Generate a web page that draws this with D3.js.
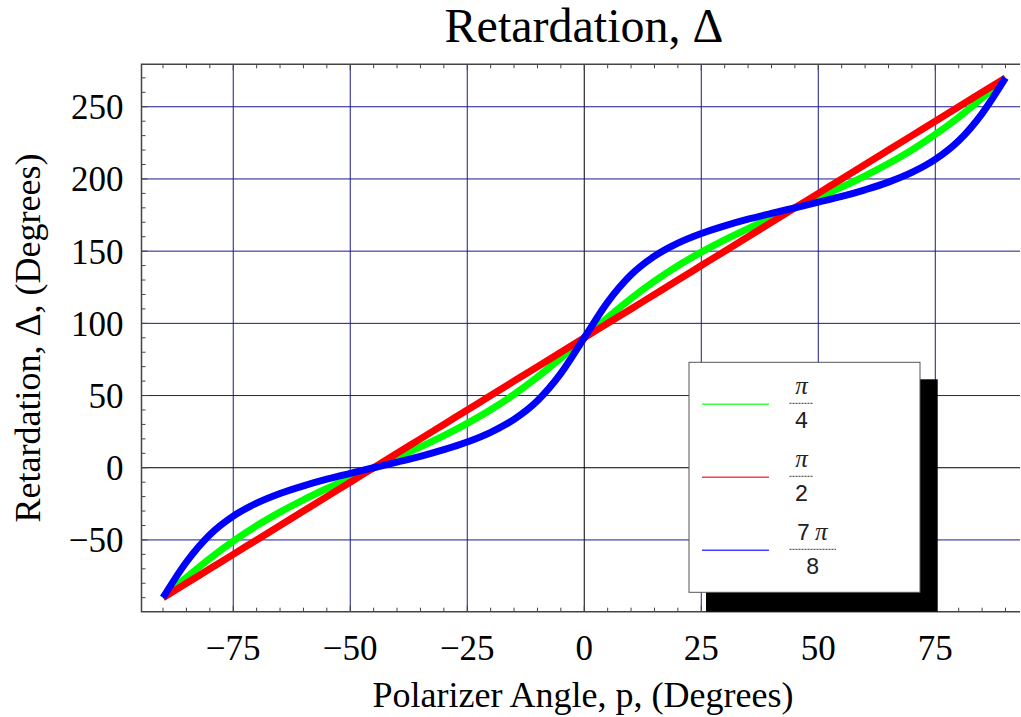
<!DOCTYPE html>
<html>
<head>
<meta charset="utf-8">
<script src="https://cdn.jsdelivr.net/npm/d3@7"></script>
<style>
  html, body { margin: 0; padding: 0; background: #fff; }
  svg { display: block; }
</style>
</head>
<body>
<svg id="chart" width="1021" height="717"></svg>
<script>
// ---- data ----
const angles = [-90,-85,-80,-75,-70,-65,-60,-55,-50,-45,-40,-35,-30,-25,-20,-15,-10,-5,0,
                5,10,15,20,25,30,35,40,45,50,55,60,65,70,75,80,85,90];
const greenPi4 = [-90,-76.0,-62.8,-50.8,-40.1,-30.7,-22.2,-14.4,-7.1,0,7.1,14.4,22.2,30.7,40.1,50.8,62.8,76.0,90,
                  104.0,117.2,129.2,139.9,149.3,157.8,165.6,172.9,180,187.1,194.4,202.2,210.7,220.1,230.8,242.8,256.0,270];
const redPi2 = [-90,-80,-70,-60,-50,-40,-30,-20,-10,0,10,20,30,40,50,60,70,80,90,
                100,110,120,130,140,150,160,170,180,190,200,210,220,230,240,250,260,270];
const blue7Pi8 = [-90,-65.3,-46.4,-33.5,-24.5,-17.8,-12.5,-7.9,-3.9,0,3.9,7.9,12.5,17.8,24.5,33.5,46.4,65.3,90,
                  114.7,133.6,146.5,155.5,162.2,167.5,172.1,176.1,180,183.9,187.9,192.5,197.8,204.5,213.5,226.4,245.3,270];
const seriesNames = ["π/4", "π/2", "7π/8"];
const seriesColors = ["#00ff00", "#ff0000", "#0000ff"];
const xTicks = [-75,-50,-25,0,25,50,75];
const yTicks = [-50,0,50,100,150,200,250];
const xTickLabels = ["\u221275","\u221250","\u221225","0","25","50","75"];
const yTickLabels = ["\u221250","0","50","100","150","200","250"];
const legendCoef = ["","","7"];
const legendDen = ["4","2","8"];

// ---- layout ----
const svg = d3.select("#chart");
const L = 141.5, R = 1020, T = 64.3, B = 611.7;
const x = d3.scaleLinear().domain([-94.6, 93.1]).range([L, R]);
const y = d3.scaleLinear().domain([-99.7, 279.4]).range([B, T]);
const serif = "'Liberation Serif','Times New Roman',serif";
const mono = "'Liberation Mono','Courier New',monospace";

// grid
const g = svg.append("g");
g.selectAll(".vg").data(xTicks).enter().append("line")
  .attr("x1", d => x(d)).attr("x2", d => x(d)).attr("y1", T).attr("y2", B)
  .attr("stroke", d => d === 0 ? "#000" : "#1a1a8c").attr("stroke-width", 1);
g.selectAll(".hg").data(yTicks).enter().append("line")
  .attr("x1", L).attr("x2", R).attr("y1", d => y(d)).attr("y2", d => y(d))
  .attr("stroke", d => d === 0 ? "#000" : "#1a1a8c").attr("stroke-width", 1);

// minor ticks
const xMinor = d3.range(-90, 91, 5);
const yMinor = d3.range(-90, 271, 10);
g.selectAll(".xb").data(xMinor).enter().append("line")
  .attr("x1", d => x(d)).attr("x2", d => x(d)).attr("y1", B).attr("y2", d => B - (d % 25 === 0 ? 6 : 4))
  .attr("stroke", "#444").attr("stroke-width", 1);
g.selectAll(".xt").data(xMinor).enter().append("line")
  .attr("x1", d => x(d)).attr("x2", d => x(d)).attr("y1", T).attr("y2", d => T + (d % 25 === 0 ? 6 : 4))
  .attr("stroke", "#444").attr("stroke-width", 1);
g.selectAll(".yl").data(yMinor).enter().append("line")
  .attr("x1", L).attr("x2", d => L + (d % 50 === 0 ? 6 : 4)).attr("y1", d => y(d)).attr("y2", d => y(d))
  .attr("stroke", "#444").attr("stroke-width", 1);

// frame (left, top, bottom)
svg.append("path")
  .attr("d", `M${R},${T}H${L}V${B}H${R}`)
  .attr("fill", "none").attr("stroke", "#444").attr("stroke-width", 1.5);

// tick labels
svg.selectAll(".xl").data(xTicks).enter().append("text")
  .attr("x", d => x(d)).attr("y", 660)
  .attr("text-anchor", "middle").attr("font-family", serif).attr("font-size", 35)
  .text((d, i) => xTickLabels[i]);
svg.selectAll(".ylab").data(yTicks).enter().append("text")
  .attr("x", 123.5).attr("y", d => y(d) + 12.5)
  .attr("text-anchor", "end").attr("font-family", serif).attr("font-size", 35)
  .text((d, i) => yTickLabels[i]);

// titles
svg.append("text").attr("x", 584).attr("y", 42).attr("text-anchor", "middle")
  .attr("font-family", serif).attr("font-size", 48).text("Retardation, \u0394");
svg.append("text").attr("x", 583).attr("y", 707).attr("text-anchor", "middle")
  .attr("font-family", serif).attr("font-size", 36).text("Polarizer Angle, p, (Degrees)");
svg.append("text").attr("transform", "translate(40,338) rotate(-90)").attr("text-anchor", "middle")
  .attr("font-family", serif).attr("font-size", 36).text("Retardation, \u0394, (Degrees)");

// curves
const series = [greenPi4, redPi2, blue7Pi8];
const line = d3.line().x((d, i) => x(angles[i])).y(d => y(d)).curve(d3.curveMonotoneX);
svg.append("g").selectAll("path").data(series).enter().append("path")
  .attr("d", d => line(d))
  .attr("fill", "none")
  .attr("stroke", (d, i) => seriesColors[i])
  .attr("stroke-width", 7)
  .attr("stroke-linejoin", "round");

// legend
const lx = 689, ly = 362.3, lw = 231, lh = 230;
svg.append("rect").attr("x", lx + 17).attr("y", ly + 17).attr("width", lw + 0.7).attr("height", B - ly - 17)
  .attr("fill", "#000");
svg.append("rect").attr("x", lx).attr("y", ly).attr("width", lw).attr("height", lh)
  .attr("fill", "#fff").attr("stroke", "#555").attr("stroke-width", 1);
const rowY = [404.3, 477.3, 550.3];
const lg = svg.append("g").selectAll("g").data(seriesNames).enter().append("g");
lg.append("line").attr("x1", 702).attr("x2", 769).attr("y1", (d, i) => rowY[i]).attr("y2", (d, i) => rowY[i])
  .attr("stroke", (d, i) => seriesColors[i]).attr("stroke-width", 1.6).attr("stroke-opacity", 0.75);
lg.append("line").attr("x1", 789.5).attr("x2", (d, i) => i === 2 ? 836 : 813.5)
  .attr("y1", (d, i) => rowY[i] - 1).attr("y2", (d, i) => rowY[i] - 1)
  .attr("stroke", "#333").attr("stroke-width", 1).attr("stroke-dasharray", "2,1");
const num = lg.append("text").attr("x", (d, i) => i === 2 ? 812 : 801.5).attr("y", (d, i) => rowY[i] - 10.5)
  .attr("text-anchor", "middle").attr("fill", "#222");
num.append("tspan").attr("font-family", mono).attr("font-size", 23)
  .text((d, i) => legendCoef[i] ? legendCoef[i] + "\u2009" : "");
num.append("tspan").attr("font-family", serif).attr("font-style", "italic").attr("font-size", 25).text("π");
lg.append("text").attr("x", (d, i) => i === 2 ? 812.7 : 801.5).attr("y", (d, i) => rowY[i] + 24)
  .attr("text-anchor", "middle").attr("font-family", mono).attr("font-size", 23).attr("fill", "#222")
  .text((d, i) => legendDen[i]);
</script>
</body>
</html>
